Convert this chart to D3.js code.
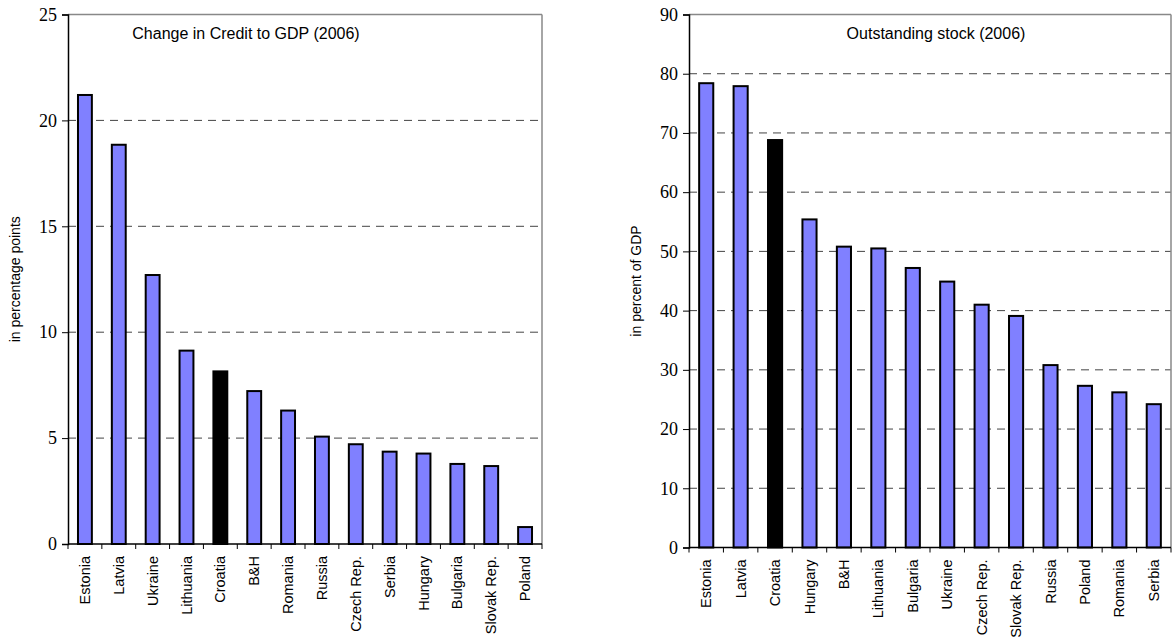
<!DOCTYPE html>
<html><head><meta charset="utf-8">
<script src="https://cdn.jsdelivr.net/npm/d3@7"></script>
<style>body{margin:0;background:#fff}svg{display:block}
.ynum{font-family:"Liberation Serif","Times New Roman",serif !important;}
</style>
</head><body>
<svg id="c" width="1172" height="641"></svg>
<script>
const leftCategories = ["Estonia","Latvia","Ukraine","Lithuania","Croatia","B&H","Romania","Russia","Czech Rep.","Serbia","Hungary","Bulgaria","Slovak Rep.","Poland"];
const leftValues = [21.2,18.85,12.7,9.13,8.15,7.22,6.3,5.07,4.71,4.36,4.27,3.78,3.68,0.8];
const leftTicks = [0,5,10,15,20,25];

const rightCategories = ["Estonia","Latvia","Croatia","Hungary","B&H","Lithuania","Bulgaria","Ukraine","Czech Rep.","Slovak Rep.","Russia","Poland","Romania","Serbia"];
const rightValues = [78.4,77.9,68.8,55.4,50.8,50.5,47.2,44.9,41.0,39.1,30.8,27.3,26.2,24.2];
const rightTicks = [0,10,20,30,40,50,60,70,80,90];

const highlight = "Croatia";
const svg = d3.select("#c");

function panel(o){
  const g = svg.append("g");
  const x = d3.scaleBand().domain(o.cats).range([o.x0,o.x1]).paddingInner(0.59).paddingOuter(0.295);
  const xt = d3.scaleBand().domain(o.cats).range([o.x0,o.x1]).padding(0);
  const y = d3.scaleLinear().domain([0,o.max]).range([o.y0,o.y1]);
  g.selectAll("line.grid").data(o.ticks.filter(t=>t>0 && t<o.max)).join("line")
    .attr("x1",o.x0).attr("x2",o.x1).attr("y1",d=>y(d)).attr("y2",d=>y(d))
    .attr("stroke","#444").attr("stroke-width",1).attr("stroke-dasharray","8,6");
  g.append("line").attr("x1",o.x0).attr("x2",o.x1).attr("y1",y(o.max)).attr("y2",y(o.max)).attr("stroke","#888").attr("stroke-width",1.5);
  g.append("line").attr("x1",o.x1).attr("x2",o.x1).attr("y1",y(o.max)).attr("y2",y(0)).attr("stroke","#888").attr("stroke-width",1.5);
  g.selectAll("rect").data(o.cats.map((c,i)=>({c,v:o.vals[i]}))).join("rect")
    .attr("x",d=>x(d.c)).attr("width",x.bandwidth())
    .attr("y",d=>y(d.v)).attr("height",d=>y(0)-y(d.v))
    .attr("fill",d=>d.c===highlight?"#000":"#8080ff")
    .attr("stroke","#000").attr("stroke-width",2);
  const ya = d3.axisLeft(y).tickValues(o.ticks).tickSize(6).tickPadding(5);
  const yg = g.append("g").attr("transform",`translate(${o.x0},0)`).call(ya)
    .attr("font-family",null).attr("font-size",null);
  yg.select(".domain").attr("stroke","#000").attr("stroke-width",1.5);
  yg.selectAll(".tick line").attr("stroke","#000").attr("stroke-width",1);
  yg.selectAll("text").attr("class","ynum")
    .style("font-family","'Liberation Serif','Times New Roman',serif").style("font-size","18px").attr("fill","#000");
  const bounds = o.cats.map(c=>xt(c)).concat([o.x1]);
  g.append("line").attr("x1",o.x0).attr("x2",o.x1).attr("y1",y(0)).attr("y2",y(0)).attr("stroke","#000").attr("stroke-width",1.5);
  g.selectAll("line.xt").data(bounds).join("line")
    .attr("x1",d=>d).attr("x2",d=>d).attr("y1",y(0)).attr("y2",y(0)+5)
    .attr("stroke","#000").attr("stroke-width",1);
  g.selectAll("text.cat").data(o.cats).join("text")
    .attr("transform",d=>`translate(${x(d)+x.bandwidth()/2+5},${y(0)+12}) rotate(-90)`)
    .attr("text-anchor","end").style("font-family","'Liberation Sans',Arial,sans-serif")
    .style("font-size","14.5px").attr("fill","#000").text(d=>d);
  g.append("text").attr("x",o.tx).attr("y",o.ty).attr("text-anchor","middle")
    .style("font-family","'Liberation Sans',Arial,sans-serif").style("font-size","16px").text(o.title);
  g.append("text").attr("transform",`translate(${o.lx},${(o.y0+o.y1)/2}) rotate(-90)`)
    .attr("text-anchor","middle").style("font-family","'Liberation Sans',Arial,sans-serif")
    .style("font-size","14px").text(o.ylabel);
}

panel({cats:leftCategories, vals:leftValues, ticks:leftTicks, max:25, x0:68, x1:542, y0:544, y1:14.5,
  title:"Change in Credit to GDP (2006)", tx:246, ty:39, ylabel:"in percentage points", lx:20});
panel({cats:rightCategories, vals:rightValues, ticks:rightTicks, max:90, x0:689, x1:1171, y0:547.5, y1:14.5,
  title:"Outstanding stock (2006)", tx:936, ty:39, ylabel:"in percent of GDP", lx:641});
</script>
</body></html>
